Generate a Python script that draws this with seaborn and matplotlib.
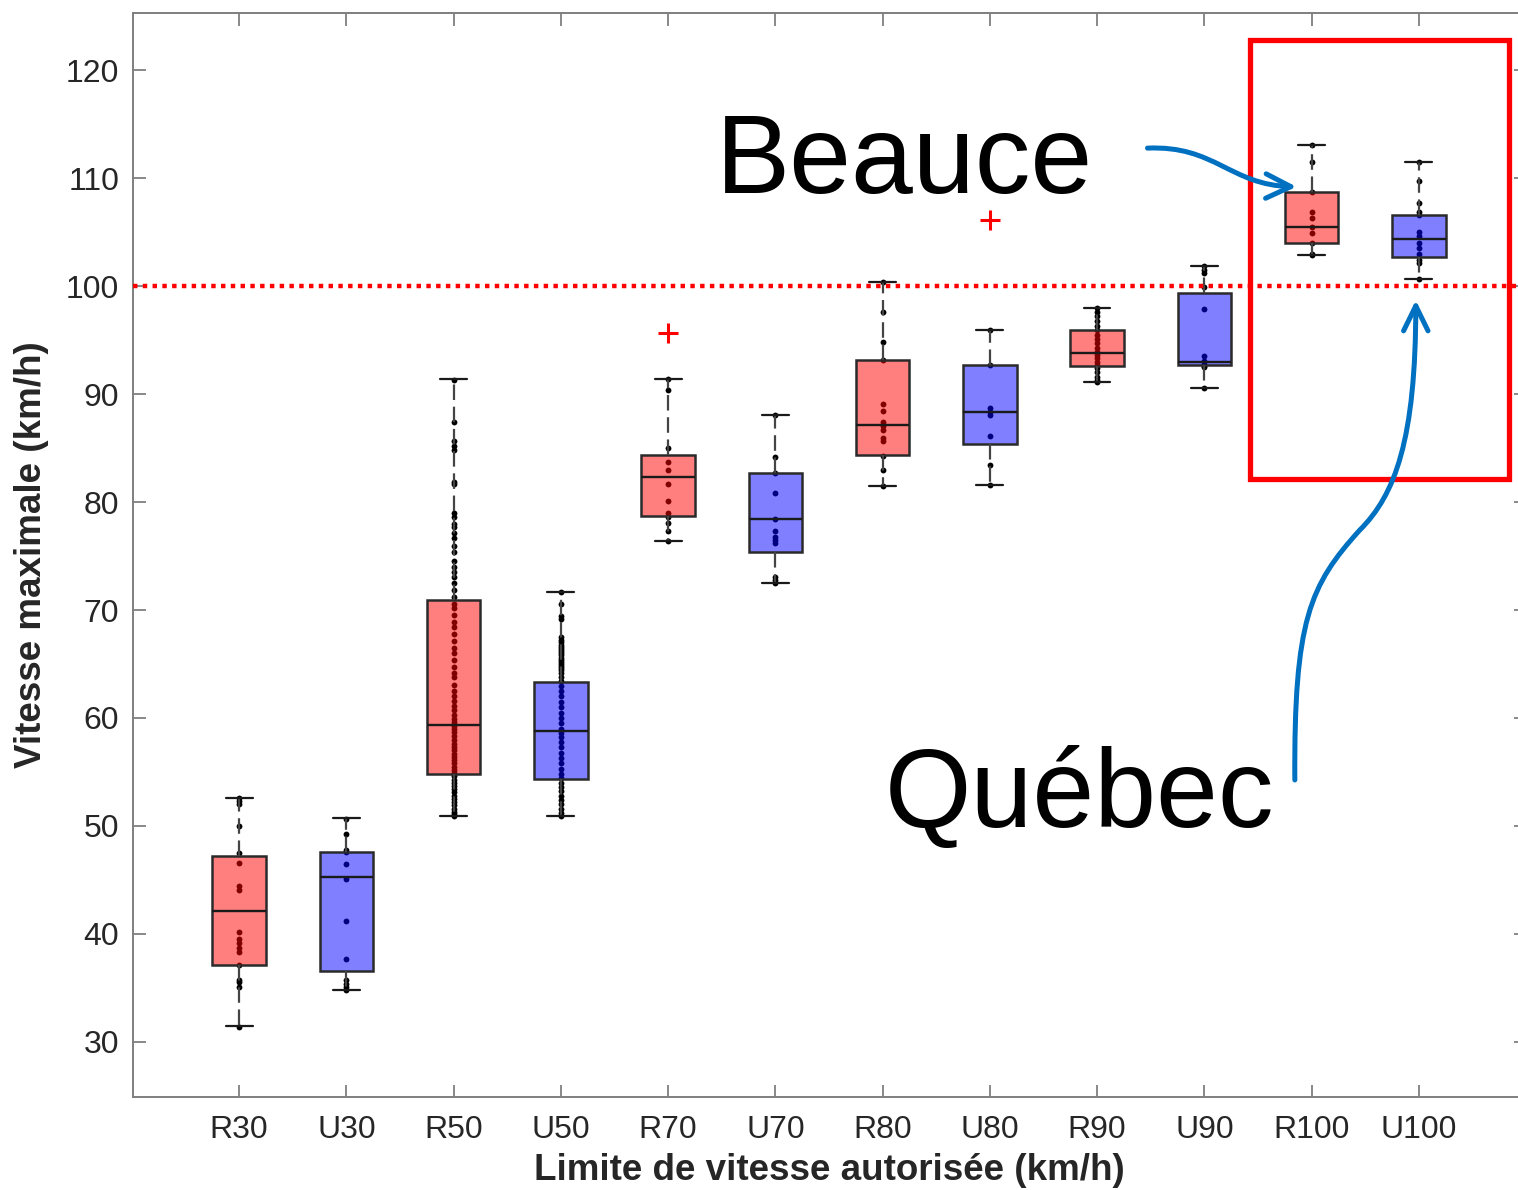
import numpy as np
import pandas as pd
import matplotlib
matplotlib.use('Agg')
import matplotlib.pyplot as plt
import seaborn as sns
from matplotlib.path import Path
from matplotlib.patches import FancyArrowPatch, Rectangle

# catégories (R = Beauce, U = Québec)
categories = ['R30', 'U30', 'R50', 'U50', 'R70', 'U70',
              'R80', 'U80', 'R90', 'U90', 'R100', 'U100']

# statistiques des boîtes
q1 = [37.1, 36.6, 54.8, 54.35, 78.7, 75.4, 84.4, 85.4, 92.6, 92.7, 104.0, 102.7]
med = [42.1, 45.3, 59.35, 58.8, 82.3, 78.4, 87.1, 88.3, 93.8, 93.0, 105.5, 104.4]
q3 = [47.2, 47.6, 70.9, 63.3, 84.4, 82.7, 93.2, 92.7, 95.9, 99.4, 108.7, 106.6]
whislo = [31.5, 34.8, 50.9, 50.9, 76.4, 72.5, 81.5, 81.6, 91.1, 90.6, 102.9, 100.7]
whishi = [52.6, 50.7, 91.4, 71.7, 91.4, 88.1, 100.4, 95.9, 98.0, 101.9, 113.1, 111.5]
outliers = {'R70': [95.7], 'U80': [106.1]}

# points individuels
pts_R30 = [52.6, 52.3, 52.0, 50.0, 47.5, 46.6, 44.4, 44.1, 40.2, 39.5, 39.2,
           38.7, 38.3, 37.1, 35.7, 35.5, 35.1, 31.4]
pts_U30 = [50.6, 49.3, 47.8, 47.6, 46.5, 45.1, 41.2, 37.7, 35.7, 35.4, 35.1, 34.8]
pts_R50 = [91.3, 87.4, 85.7, 85.2, 84.8, 81.9, 81.7, 79.0, 78.6, 78.0, 77.7,
           77.1, 76.7, 75.9, 75.4, 74.5, 74.0, 73.5, 73.1, 72.5, 71.9, 71.2,
           70.6, 70.2, 69.5, 68.9, 68.4, 67.8, 67.1, 66.5, 66.0, 65.4, 64.7,
           64.2, 63.8, 63.1, 62.5, 62.0, 61.6, 61.1, 60.7, 60.3, 59.9, 59.6,
           59.3, 59.0, 58.7, 58.3, 58.0, 57.6, 57.3, 57.0, 56.7, 56.4, 56.1,
           55.8, 55.5, 55.2, 54.9, 54.6, 54.3, 54.0, 53.7, 53.4, 53.1, 52.8,
           52.5, 52.2, 51.9, 51.6, 51.3, 51.1, 50.9]
pts_U50 = [71.7, 70.6, 69.4, 69.2, 67.5, 67.2, 67.0, 66.8, 66.6, 66.4, 66.2,
           66.0, 65.8, 65.6, 65.4, 65.2, 65.0, 64.8, 64.6, 64.4, 64.2, 63.8,
           63.4, 63.0, 62.5, 62.0, 61.5, 61.0, 60.5, 60.0, 59.5, 59.0, 58.6,
           58.2, 57.8, 57.3, 56.8, 56.3, 55.8, 55.3, 54.8, 54.4, 54.0, 53.6,
           53.2, 52.8, 52.4, 52.0, 51.6, 51.2, 50.9]
pts_R70 = [91.4, 90.4, 85.0, 83.7, 83.0, 81.7, 80.1, 79.0, 78.6, 78.1, 77.3, 76.4]
pts_U70 = [88.1, 84.2, 82.7, 80.8, 78.4, 77.3, 76.8, 76.5, 76.2, 73.1, 72.8, 72.5]
pts_R80 = [100.4, 97.6, 94.8, 93.2, 89.1, 88.4, 87.4, 87.0, 86.7, 85.9, 85.7,
           84.3, 83.0, 81.5]
pts_U80 = [95.9, 92.7, 88.7, 88.3, 88.1, 86.1, 83.4, 81.6]
pts_R90 = [98.0, 97.6, 97.2, 96.8, 96.3, 95.9, 95.5, 95.1, 94.7, 94.3, 93.9,
           93.6, 93.3, 93.0, 92.7, 92.4, 92.0, 91.6, 91.3, 91.1]
pts_U90 = [101.9, 101.5, 101.2, 99.9, 97.9, 93.5, 93.1, 92.8, 92.6, 92.5, 90.6]
pts_R100 = [113.1, 111.5, 108.7, 106.9, 106.3, 105.5, 104.9, 104.0, 103.0, 102.9]
pts_U100 = [111.5, 109.7, 107.7, 106.9, 106.6, 105.0, 104.6, 104.0, 103.5,
            103.0, 102.4, 102.1, 100.7]

points = [pts_R30, pts_U30, pts_R50, pts_U50, pts_R70, pts_U70,
          pts_R80, pts_U80, pts_R90, pts_U90, pts_R100, pts_U100]

df = pd.DataFrame({
    'cat': [c for c, p in zip(categories, points) for _ in p],
    'v': [v for p in points for v in p],
})

sns.set_style('white')
plt.rcParams['font.family'] = ['Liberation Sans', 'DejaVu Sans']

fig = plt.figure(figsize=(15.18, 11.9), dpi=100)
ax = fig.add_axes([0.0876, 0.0782, 0.9177, 0.9109])

sns.stripplot(data=df, x='cat', y='v', order=categories, color='black',
              size=4.2, jitter=False, ax=ax, zorder=1)

stats = []
for i, c in enumerate(categories):
    stats.append(dict(label=c, q1=q1[i], med=med[i], q3=q3[i],
                      whislo=whislo[i], whishi=whishi[i],
                      fliers=outliers.get(c, [])))

bp = ax.bxp(stats, positions=range(len(categories)), widths=0.5,
            capwidths=0.25, patch_artist=True, manage_ticks=False,
            boxprops=dict(edgecolor='#2a2a2a', linewidth=1.8),
            medianprops=dict(color='#1a1a1a', linewidth=1.7),
            whiskerprops=dict(color='#444444', linewidth=1.6,
                              linestyle=(0, (7, 3))),
            capprops=dict(color='#1a1a1a', linewidth=1.6),
            flierprops=dict(marker='+', markeredgecolor='red', markersize=15,
                            markeredgewidth=2.2, linestyle='none'))
for patch, c in zip(bp['boxes'], categories):
    patch.set_facecolor((1, 0, 0, 0.5) if c.startswith('R') else (0, 0, 1, 0.5))

# limite 100 km/h
ax.axhline(100, color='red', linestyle=(0, (1, 1.2)), linewidth=3.2, zorder=3)

# cadre autour des zones 100 km/h
ax.add_patch(Rectangle((9.43, 82.1), 2.41, 40.7, fill=False,
                       edgecolor='red', linewidth=3.8, zorder=4, clip_on=False))

ax.text(4.45, 108.6, 'Beauce', fontsize=80, va='baseline', ha='left',
        color='black')
ax.text(6.02, 49.9, 'Québec', fontsize=80, va='baseline', ha='left',
        color='black')

arrow_kw = dict(arrowstyle='->,head_length=0.45,head_width=0.22',
                mutation_scale=40, linewidth=3.6, color='#0070C0',
                shrinkA=0, shrinkB=0, zorder=5, transform=ax.transData)
beauce_path = Path([(8.47, 112.78), (9.10, 113.06), (9.24, 109.35),
                    (9.86, 109.2)],
                   [Path.MOVETO, Path.CURVE4, Path.CURVE4, Path.CURVE4])
ax.add_patch(FancyArrowPatch(path=beauce_path, **arrow_kw))
quebec_path = Path([(9.844, 54.26), (9.835, 69.07), (9.984, 72.31),
                    (10.45, 77.41), (10.777, 80.65), (10.972, 85.74),
                    (10.972, 98.7)],
                   [Path.MOVETO, Path.CURVE4, Path.CURVE4, Path.CURVE4,
                    Path.CURVE4, Path.CURVE4, Path.CURVE4])
ax.add_patch(FancyArrowPatch(path=quebec_path, **arrow_kw))

ax.set_xlim(-0.99, 12.0)
ax.set_ylim(24.9, 125.3)
ax.set_yticks(range(30, 121, 10))
ax.set_xticks(range(len(categories)))
ax.set_xticklabels(categories)

for s in ax.spines.values():
    s.set_color('#7f7f7f')
    s.set_linewidth(1.4)
ax.tick_params(direction='in', length=9, width=1.3, color='#7f7f7f',
               labelsize=23, labelcolor='#262626',
               top=True, right=True, bottom=True, left=True)
ax.tick_params(axis='x', pad=13)
ax.tick_params(axis='y', pad=10)

ax.set_xlabel('Limite de vitesse autorisée (km/h)', fontsize=26.5,
              fontweight='bold', color='#262626', labelpad=6)
ax.set_ylabel('Vitesse maximale (km/h)', fontsize=26.5, fontweight='bold',
              color='#262626', labelpad=12)

fig.savefig('out.png', dpi=100)
